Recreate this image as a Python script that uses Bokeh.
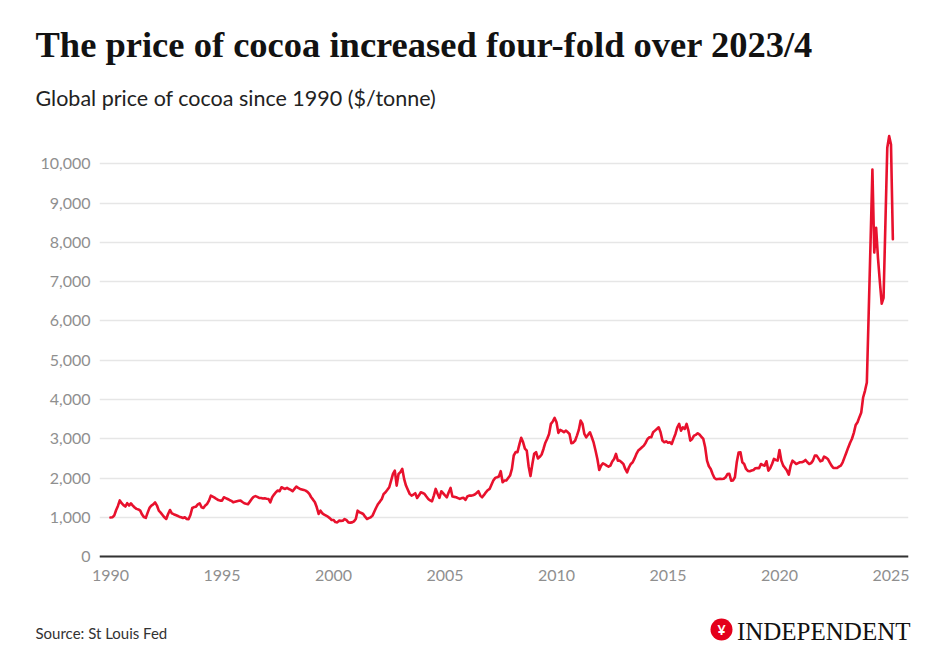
import numpy as np
from bokeh.plotting import figure
from bokeh.layouts import column, row
from bokeh.models import Range1d, FixedTicker, NumeralTickFormatter, Span, Label
from bokeh.embed import file_html
from bokeh.resources import INLINE

# Global cocoa price in $/tonne, one value per month starting January 1990
prices_1990s = [
    995, 1000, 1045, 1180, 1290, 1430, 1360, 1310, 1275, 1360, 1300, 1355,   # 1990
    1300, 1250, 1215, 1200, 1170, 1070, 1005, 985, 1120, 1240, 1300, 1330,   # 1991
    1380, 1300, 1170, 1120, 1060, 1000, 958, 1085, 1187, 1102, 1080, 1060,   # 1992
    1040, 1017, 1000, 983, 1000, 960, 950, 1060, 1238, 1260, 1272, 1330,     # 1993
    1357, 1255, 1238, 1300, 1340, 1425, 1552, 1527, 1500, 1467, 1440, 1425,  # 1994
    1425, 1510, 1490, 1467, 1442, 1420, 1382, 1395, 1408, 1420, 1425, 1390,  # 1995
    1357, 1345, 1335, 1400, 1467, 1520, 1540, 1520, 1494, 1490, 1480, 1485,  # 1996
    1475, 1468, 1383, 1511, 1579, 1640, 1681, 1664, 1766, 1740, 1723, 1749,  # 1997
    1720, 1698, 1664, 1723, 1783, 1750, 1723, 1710, 1698, 1680, 1650, 1596,  # 1998
    1511, 1450, 1383, 1255, 1085, 1170, 1102, 1070, 1043, 1017, 980, 932,    # 1999
]
prices_2000s = [
    932, 880, 872, 915, 910, 915, 957, 930, 872, 865, 872, 898,              # 2000
    957, 1170, 1128, 1110, 1085, 1017, 957, 980, 1000, 1043, 1150, 1250,     # 2001
    1340, 1400, 1468, 1596, 1638, 1700, 1766, 1936, 2106, 2191, 1808, 2104,  # 2002
    2150, 2234, 1979, 1808, 1700, 1596, 1553, 1580, 1613, 1494, 1560, 1638,  # 2003
    1620, 1596, 1530, 1468, 1430, 1408, 1553, 1723, 1600, 1494, 1664, 1613,  # 2004
    1560, 1511, 1638, 1749, 1528, 1520, 1511, 1490, 1468, 1490, 1494, 1443,  # 2005
    1530, 1553, 1553, 1560, 1579, 1620, 1664, 1553, 1511, 1570, 1638, 1690,  # 2006
    1723, 1830, 1936, 2004, 2020, 2038, 2174, 1894, 1936, 1936, 2000, 2064,  # 2007
    2234, 2574, 2659, 2659, 2850, 3025, 2915, 2750, 2700, 2300, 2050, 2350,  # 2008
    2620, 2659, 2500, 2540, 2600, 2740, 2900, 3000, 3120, 3380, 3440, 3530,  # 2009
]
prices_2010s = [
    3420, 3150, 3224, 3200, 3165, 3207, 3170, 3122, 2885, 2900, 2950, 3080,  # 2010
    3224, 3462, 3377, 3122, 3038, 3100, 3165, 3038, 2900, 2700, 2486, 2206,  # 2011
    2316, 2375, 2350, 2316, 2290, 2316, 2420, 2486, 2613, 2443, 2443, 2400,  # 2012
    2358, 2231, 2146, 2274, 2358, 2401, 2500, 2613, 2700, 2741, 2783, 2826,  # 2013
    2900, 2995, 3038, 3038, 3165, 3207, 3250, 3292, 3165, 2953, 2910, 2936,  # 2014
    2900, 2910, 2868, 3000, 3122, 3292, 3377, 3207, 3292, 3250, 3377, 3207,  # 2015
    2953, 2995, 3080, 3100, 3139, 3106, 3050, 2995, 2783, 2443, 2300, 2231,  # 2016
    2104, 2002, 1968, 1976, 1980, 1976, 1980, 2019, 2100, 2110, 1934, 1940,  # 2017
    2020, 2400, 2650, 2656, 2401, 2358, 2231, 2180, 2172, 2190, 2206, 2250,  # 2018
    2256, 2250, 2358, 2330, 2316, 2426, 2189, 2250, 2358, 2486, 2460, 2443,  # 2019
]
prices_2020s = [
    2715, 2443, 2316, 2256, 2189, 2087, 2316, 2443, 2400, 2358, 2380, 2401,  # 2020
    2401, 2420, 2460, 2401, 2358, 2380, 2443, 2571, 2571, 2500, 2426, 2443,  # 2021
    2545, 2520, 2486, 2401, 2316, 2256, 2256, 2256, 2290, 2316, 2400, 2526,  # 2022
    2650, 2780, 2900, 3000, 3150, 3350, 3420, 3550, 3670, 4050, 4220, 4430,  # 2023
    6200, 8000, 9856, 7740, 8370, 7600, 7000, 6440, 6590, 8500, 10407, 10704,  # 2024
    10492, 8077,                                                             # 2025
]

year_ticks = [1990, 1995, 2000, 2005, 2010, 2015, 2020, 2025]
price_ticks = [0, 1000, 2000, 3000, 4000, 5000, 6000, 7000, 8000, 9000, 10000]

title_text = "The price of cocoa increased four-fold over 2023/4"
subtitle_text = "Global price of cocoa since 1990 ($/tonne)"
source_text = "Source: St Louis Fed"
brand_text = "INDEPENDENT"

prices = prices_1990s + prices_2000s + prices_2010s + prices_2020s
months = 1990 + np.arange(len(prices)) / 12.0

SANS = "Lato"
SERIF = "Liberation Serif"
W = 936
HEAD_H, CHART_H, FOOT_H = 124, 476, 57


def text_panel(height):
    """Blank strip whose data units are canvas pixels, y growing downwards."""
    f = figure(width=W, height=height, title=None,
               output_backend="svg", toolbar_location=None,
               x_range=Range1d(0, W), y_range=Range1d(height, 0),
               min_border=0, x_axis_type=None, y_axis_type=None)
    f.grid.visible = False
    f.outline_line_color = None
    f.background_fill_color = "white"
    f.border_fill_color = "white"
    return f


# Header: headline and subtitle
head = text_panel(HEAD_H)
head.add_layout(Label(x=35, y=44, text=title_text, text_font=SERIF,
                      text_font_style="bold", text_font_size="36.5px",
                      text_color="#121212", text_baseline="alphabetic"))
head.add_layout(Label(x=35, y=97, text=subtitle_text, text_font=SANS,
                      text_font_size="21.5px", text_color="#222222",
                      text_baseline="alphabetic"))

# Chart
p = figure(
    width=W, height=CHART_H,
    output_backend="svg", toolbar_location=None,
    x_range=Range1d(1989.507, 2025.785),
    y_range=Range1d(-150, 11000),
    min_border_left=99, min_border_right=28,
    min_border_top=0, min_border_bottom=38,
)
p.background_fill_color = "white"
p.border_fill_color = "white"
p.outline_line_color = None

for ax in (p.xaxis, p.yaxis):
    ax.axis_line_color = None
    ax.major_tick_line_color = None
    ax.minor_tick_line_color = None
    ax.major_tick_in = 0
    ax.major_tick_out = 0
    ax.major_label_text_font = SANS
    ax.major_label_text_font_size = "16px"
    ax.major_label_text_color = "#8f8f8f"

p.xaxis.ticker = FixedTicker(ticks=year_ticks)
p.xaxis.major_label_standoff = 7
p.yaxis.ticker = FixedTicker(ticks=price_ticks)
p.yaxis.formatter = NumeralTickFormatter(format="0,0")
p.yaxis.major_label_standoff = 9

p.xgrid.grid_line_color = None
p.ygrid.grid_line_color = "#e6e6e6"
p.ygrid.grid_line_width = 1.5

# Baseline at zero
p.add_layout(Span(location=0, dimension="width", line_color="#333333", line_width=2))

p.line(months, prices, line_color="#e8112d", line_width=2.6,
       line_join="round", line_cap="round")

# Footer: source note and masthead
foot = text_panel(FOOT_H)
foot.add_layout(Label(x=35, y=32, text=source_text, text_font=SANS,
                      text_font_size="15px", text_color="#333333",
                      text_baseline="alphabetic"))
foot.circle(x=[721], y=[29], radius=11, fill_color="#e4001b", line_color=None)
foot.add_layout(Label(x=721, y=29, text="\u00a5", text_font=SANS,
                      text_font_style="bold", text_font_size="14px",
                      text_color="white", text_align="center",
                      text_baseline="middle"))
foot.add_layout(Label(x=910, y=31, text=brand_text, text_font=SERIF,
                      text_font_size="25px", text_color="#111111",
                      text_align="right", text_baseline="alphabetic"))

page = column(head, row(p), foot, spacing=0)
open("out.html", "w").write(file_html(page, INLINE))
